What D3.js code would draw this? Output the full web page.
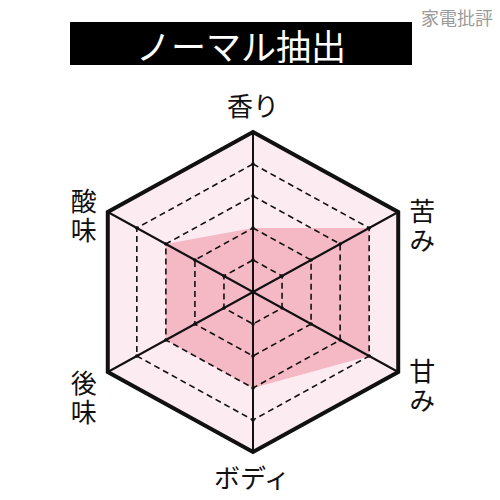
<!DOCTYPE html>
<html>
<head>
<meta charset="utf-8">
<script src="https://cdn.jsdelivr.net/npm/d3@7"></script>
<style>
  body { margin: 0; background: #fff; }
  text { font-family: "Noto Sans CJK JP", "Noto Sans", sans-serif; }
</style>
</head>
<body>
<svg id="chart"></svg>
<script>
// axis names, clockwise from the top
const axes = ['香り', '苦み', '甘み', 'ボディ', '後味', '酸味'];
// score on each axis (0-5)
const scores = [2, 4, 4, 3, 3, 3];
// ring levels
const levels = [1, 2, 3, 4, 5];
const title = 'ノーマル抽出';
const credit = '家電批評';

const width = 500;
const height = 500;
const cx = 253;
const cy = 292;
const sx = 1.048; // the hexagon is a little wider than a regular one

const svg = d3.select('#chart')
    .attr('width', width)
    .attr('height', height);

const r = d3.scaleLinear().domain([0, 5]).range([0, 160]);
const angle = d3.scaleLinear().domain([0, axes.length]).range([-Math.PI / 2, Math.PI * 1.5]);

// point for axis i at value v
const pt = (i, v) => [cx + Math.cos(angle(i)) * r(v) * sx, cy + Math.sin(angle(i)) * r(v)];
const line = d3.line().curve(d3.curveLinearClosed);

// title bar
svg.append('rect')
    .attr('x', 70).attr('y', 22)
    .attr('width', 342).attr('height', 43)
    .attr('fill', '#000');
svg.append('text')
    .attr('x', 241).attr('y', 44)
    .attr('text-anchor', 'middle')
    .attr('dominant-baseline', 'central')
    .attr('fill', '#fff')
    .attr('font-size', 35)
    .text(title);

svg.append('text')
    .attr('x', 493).attr('y', 17)
    .attr('text-anchor', 'end')
    .attr('dominant-baseline', 'central')
    .attr('fill', '#9a9a9a')
    .attr('font-size', 18)
    .text(credit);

// background hexagon
svg.append('path')
    .attr('d', line(axes.map((a, i) => pt(i, 5))))
    .attr('fill', '#fdebf2');

// score area
svg.append('path')
    .attr('d', line(scores.map((s, i) => pt(i, s))))
    .attr('fill', '#f5b8c5');

// dashed rings
svg.selectAll('.ring')
    .data(levels.slice(0, -1))
    .enter()
    .append('path')
    .attr('class', 'ring')
    .attr('d', l => line(axes.map((a, i) => pt(i, l))))
    .attr('fill', 'none')
    .attr('stroke', '#111')
    .attr('stroke-width', 1.6)
    .attr('stroke-dasharray', '6,4');

// axes
svg.selectAll('.axis')
    .data(axes)
    .enter()
    .append('line')
    .attr('class', 'axis')
    .attr('x1', cx).attr('y1', cy)
    .attr('x2', (a, i) => pt(i, 5)[0])
    .attr('y2', (a, i) => pt(i, 5)[1])
    .attr('stroke', '#111')
    .attr('stroke-width', 2);

// tick dots on the axes
const ticks = [];
axes.forEach((a, i) => levels.slice(0, -1).forEach(l => ticks.push(pt(i, l))));
svg.selectAll('.tick')
    .data(ticks)
    .enter()
    .append('circle')
    .attr('cx', d => d[0]).attr('cy', d => d[1])
    .attr('r', 1.8)
    .attr('fill', '#111');

// outer hexagon
svg.append('path')
    .attr('d', line(axes.map((a, i) => pt(i, 5))))
    .attr('fill', 'none')
    .attr('stroke', '#111')
    .attr('stroke-width', 4)
    .attr('stroke-linejoin', 'miter');

// labels: top and bottom run across, the side ones are written vertically
const labelPos = [
    { dx: 0, dy: -28, vertical: false },
    { dx: 24, dy: 15, vertical: true },
    { dx: 24, dy: 15, vertical: true },
    { dx: -1, dy: 24, vertical: false },
    { dx: -24, dy: 27, vertical: true },
    { dx: -24, dy: 5, vertical: true }
];

axes.forEach((a, i) => {
    const [x, y] = pt(i, 5);
    const p = labelPos[i];
    const t = svg.append('text')
        .attr('x', x + p.dx)
        .attr('y', y + p.dy)
        .attr('text-anchor', 'middle')
        .attr('dominant-baseline', 'central')
        .attr('font-size', 26)
        .attr('fill', '#111')
        .text(a);
    if (p.vertical) {
        t.attr('writing-mode', 'vertical-rl')
            .style('letter-spacing', '3px');
    }
});
</script>
</body>
</html>
